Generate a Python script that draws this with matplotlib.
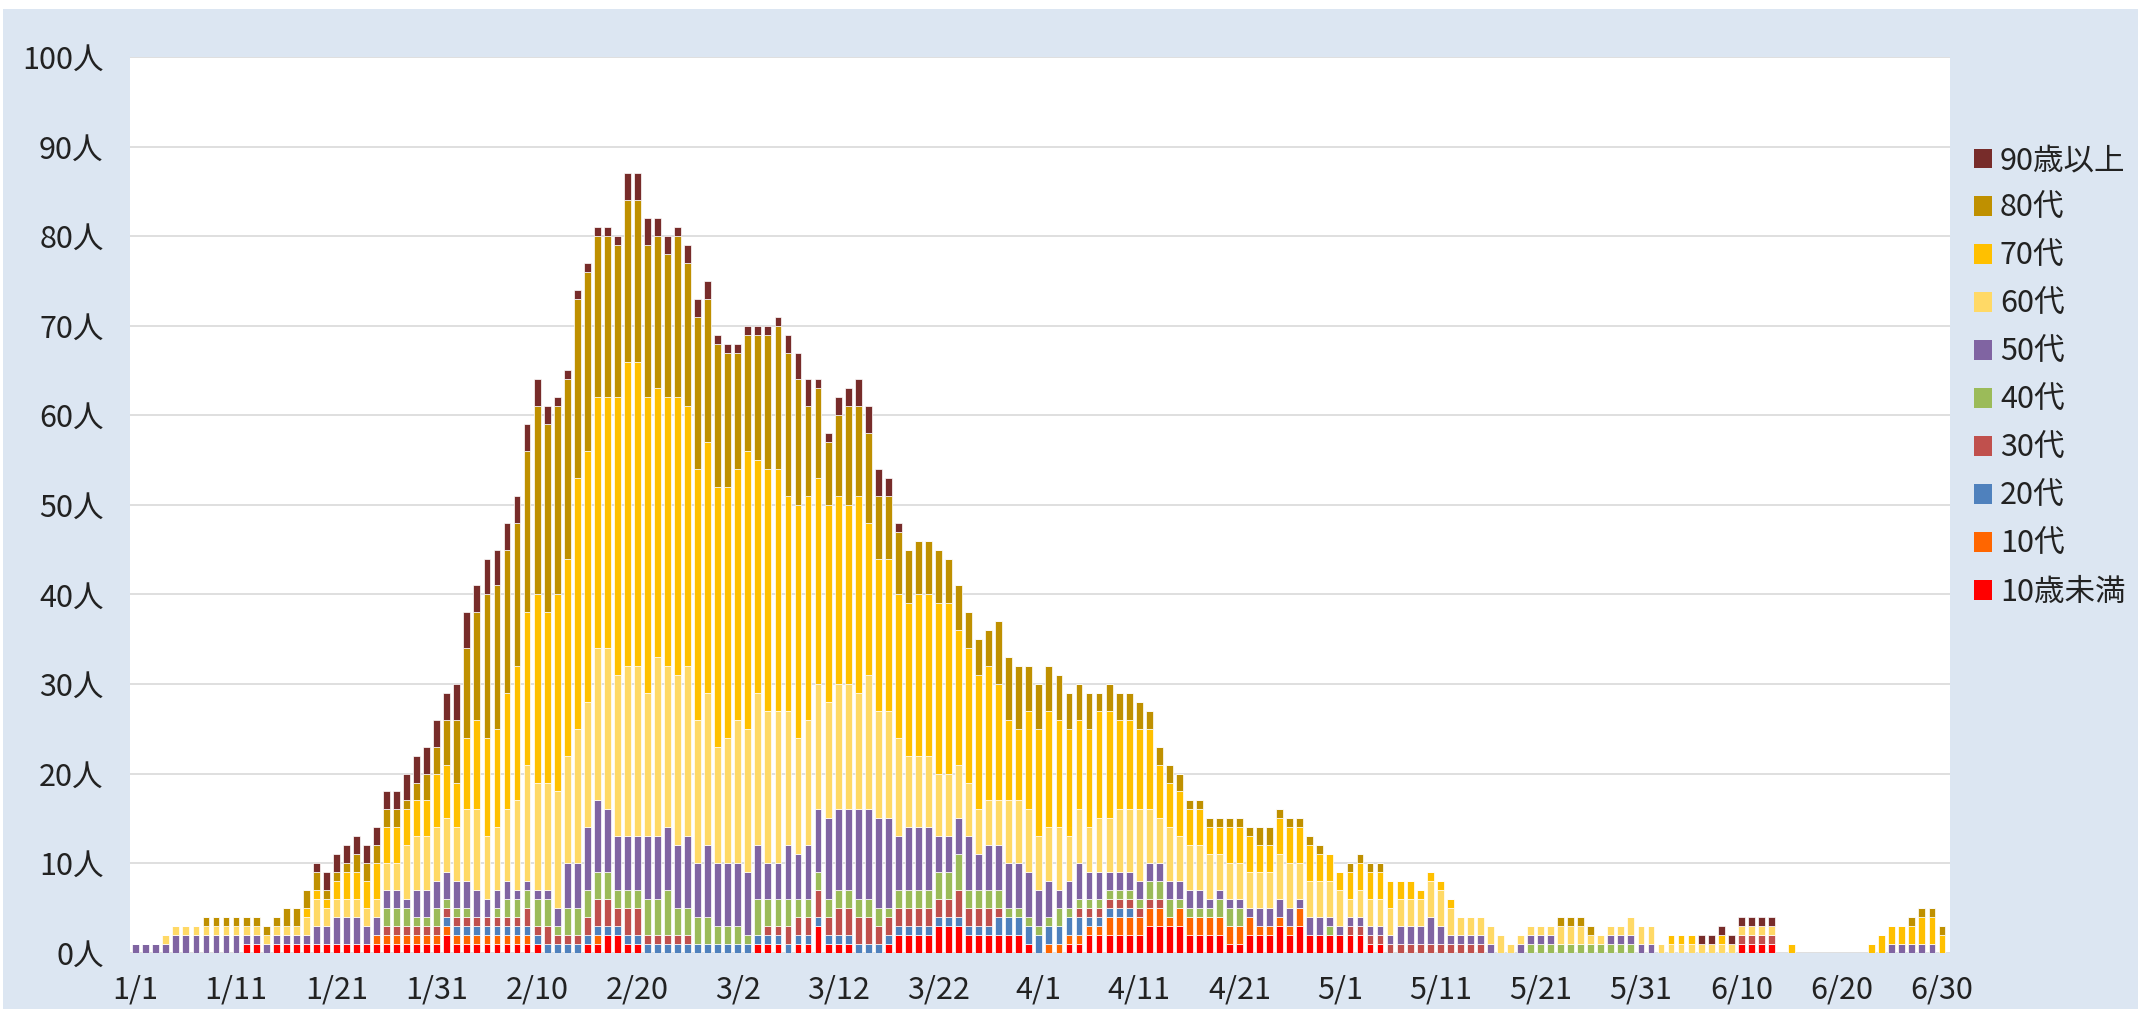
import matplotlib
matplotlib.use('Agg')
import matplotlib.pyplot as plt
import matplotlib.patches as patches
import numpy as np

plt.rcParams['font.family'] = ['Noto Sans CJK JP', 'DejaVu Sans']

# daily new cases by age group, 1/1 - 6/30 (181 days)
under10 = [
    0, 0, 0, 0, 0, 0, 0, 0, 0, 0,
    0, 1, 1, 0, 1, 1, 1, 1, 1, 1,
    1, 1, 1, 1, 1, 1, 1, 1, 1, 1,
    1, 2, 1, 1, 1, 1, 1, 1, 1, 1,
    1, 0, 0, 0, 0, 1, 1, 2, 2, 1,
    1, 0, 0, 0, 0, 0, 0, 0, 0, 0,
    0, 0, 1, 1, 1, 0, 1, 1, 3, 1,
    1, 1, 0, 0, 0, 1, 2, 2, 2, 2,
    3, 3, 3, 2, 2, 2, 2, 2, 2, 1,
    0, 0, 0, 1, 1, 2, 2, 2, 2, 2,
    2, 3, 3, 3, 3, 2, 2, 2, 2, 1,
    1, 2, 2, 2, 3, 2, 3, 2, 2, 2,
    2, 2, 2, 1, 1, 0, 0, 0, 0, 0,
    0, 0, 0, 0, 0, 0, 0, 0, 0, 0,
    0, 0, 0, 0, 0, 0, 0, 0, 0, 0,
    0, 0, 0, 0, 0, 0, 0, 0, 0, 0,
    1, 1, 1, 1, 0, 0, 0, 0, 0, 0,
    0, 0, 0, 0, 0, 0, 0, 0, 0, 0,
    0]
teens = [
    0, 0, 0, 0, 0, 0, 0, 0, 0, 0,
    0, 0, 0, 0, 0, 0, 0, 0, 0, 0,
    0, 0, 0, 0, 1, 1, 1, 1, 1, 1,
    1, 1, 1, 1, 1, 1, 1, 1, 1, 1,
    0, 0, 0, 0, 0, 0, 1, 0, 0, 0,
    0, 0, 0, 0, 0, 0, 0, 0, 0, 0,
    0, 0, 0, 0, 0, 0, 0, 0, 0, 0,
    0, 0, 0, 0, 0, 0, 0, 0, 0, 0,
    0, 0, 0, 0, 0, 0, 0, 0, 0, 0,
    0, 1, 1, 1, 1, 1, 1, 2, 2, 2,
    2, 2, 2, 1, 2, 2, 2, 2, 2, 2,
    2, 2, 1, 1, 1, 1, 2, 0, 0, 0,
    0, 0, 0, 0, 0, 0, 0, 0, 0, 0,
    0, 0, 0, 0, 0, 0, 0, 0, 0, 0,
    0, 0, 0, 0, 0, 0, 0, 0, 0, 0,
    0, 0, 0, 0, 0, 0, 0, 0, 0, 0,
    0, 0, 0, 0, 0, 0, 0, 0, 0, 0,
    0, 0, 0, 0, 0, 0, 0, 0, 0, 0,
    0]
twenties = [
    0, 0, 0, 0, 0, 0, 0, 0, 0, 0,
    0, 0, 0, 0, 0, 0, 0, 0, 0, 0,
    0, 0, 0, 0, 0, 0, 0, 0, 0, 0,
    0, 1, 1, 1, 1, 1, 1, 1, 1, 1,
    1, 1, 1, 1, 1, 1, 1, 1, 1, 1,
    1, 1, 1, 1, 1, 1, 1, 1, 1, 1,
    1, 1, 1, 1, 1, 1, 1, 1, 1, 1,
    1, 1, 1, 1, 1, 1, 1, 1, 1, 1,
    1, 1, 1, 1, 1, 1, 2, 2, 2, 2,
    2, 2, 2, 2, 2, 1, 1, 1, 1, 1,
    0, 0, 0, 0, 0, 0, 0, 0, 0, 0,
    0, 0, 0, 0, 0, 0, 0, 0, 0, 0,
    0, 0, 0, 0, 0, 0, 0, 0, 0, 0,
    0, 0, 0, 0, 0, 0, 0, 0, 0, 0,
    0, 0, 0, 0, 0, 0, 0, 0, 0, 0,
    0, 0, 0, 0, 0, 0, 0, 0, 0, 0,
    0, 0, 0, 0, 0, 0, 0, 0, 0, 0,
    0, 0, 0, 0, 0, 0, 0, 0, 0, 0,
    0]
thirties = [
    0, 0, 0, 0, 0, 0, 0, 0, 0, 0,
    0, 0, 0, 0, 0, 0, 0, 0, 0, 0,
    0, 0, 0, 0, 0, 1, 1, 1, 1, 1,
    1, 1, 1, 1, 1, 1, 1, 1, 1, 2,
    1, 2, 1, 1, 1, 2, 3, 3, 2, 3,
    3, 1, 1, 1, 1, 1, 0, 0, 0, 0,
    0, 0, 0, 1, 1, 2, 2, 2, 3, 2,
    3, 3, 3, 3, 2, 2, 2, 2, 2, 2,
    2, 2, 3, 2, 2, 2, 1, 0, 0, 0,
    0, 0, 0, 0, 1, 1, 1, 1, 1, 1,
    1, 1, 1, 0, 0, 0, 0, 0, 0, 0,
    0, 0, 0, 0, 0, 0, 0, 0, 0, 0,
    0, 1, 1, 1, 1, 1, 1, 1, 1, 1,
    1, 1, 1, 1, 1, 0, 0, 0, 0, 0,
    0, 0, 0, 0, 0, 0, 0, 0, 0, 0,
    0, 0, 0, 0, 0, 0, 0, 0, 0, 0,
    1, 1, 1, 1, 0, 0, 0, 0, 0, 0,
    0, 0, 0, 0, 0, 0, 0, 0, 0, 0,
    0]
forties = [
    0, 0, 0, 0, 0, 0, 0, 0, 0, 0,
    0, 0, 0, 0, 0, 0, 0, 0, 0, 0,
    0, 0, 0, 0, 0, 2, 2, 2, 1, 1,
    2, 1, 1, 1, 0, 0, 1, 2, 2, 2,
    3, 3, 1, 3, 3, 3, 3, 3, 2, 2,
    2, 4, 4, 5, 3, 3, 3, 3, 2, 2,
    2, 1, 4, 3, 3, 3, 2, 2, 2, 2,
    2, 2, 2, 2, 2, 1, 2, 2, 2, 2,
    3, 3, 4, 2, 2, 2, 2, 1, 1, 1,
    1, 1, 2, 1, 1, 1, 1, 1, 1, 1,
    1, 2, 2, 2, 1, 1, 1, 1, 2, 2,
    2, 0, 0, 0, 0, 0, 0, 0, 0, 1,
    0, 0, 0, 0, 0, 0, 0, 0, 0, 0,
    0, 0, 0, 0, 0, 0, 0, 0, 0, 1,
    1, 1, 1, 1, 1, 1, 1, 1, 1, 1,
    0, 0, 0, 0, 0, 0, 0, 0, 0, 0,
    0, 0, 0, 0, 0, 0, 0, 0, 0, 0,
    0, 0, 0, 0, 0, 0, 0, 0, 0, 0,
    0]
fifties = [
    1, 1, 1, 1, 2, 2, 2, 2, 2, 2,
    2, 1, 1, 1, 1, 1, 1, 1, 2, 2,
    3, 3, 3, 2, 2, 2, 2, 1, 3, 3,
    3, 3, 3, 3, 3, 2, 2, 2, 1, 1,
    1, 1, 2, 5, 5, 7, 8, 7, 6, 6,
    6, 7, 7, 7, 7, 8, 6, 8, 7, 7,
    7, 7, 6, 4, 4, 6, 5, 6, 7, 9,
    9, 9, 10, 10, 10, 10, 6, 7, 7, 7,
    4, 4, 4, 6, 4, 5, 5, 5, 5, 5,
    4, 4, 2, 3, 4, 3, 3, 2, 2, 2,
    2, 2, 2, 2, 2, 2, 2, 1, 1, 1,
    1, 1, 2, 2, 2, 2, 1, 2, 2, 1,
    1, 1, 1, 1, 1, 1, 2, 2, 2, 3,
    2, 1, 1, 1, 1, 1, 0, 0, 1, 1,
    1, 1, 0, 0, 0, 0, 0, 1, 1, 1,
    1, 1, 0, 0, 0, 0, 0, 0, 0, 0,
    0, 0, 0, 0, 0, 0, 0, 0, 0, 0,
    0, 0, 0, 0, 0, 1, 1, 1, 1, 1,
    0]
sixties = [
    0, 0, 0, 1, 1, 1, 1, 1, 1, 1,
    1, 1, 1, 1, 1, 1, 1, 2, 3, 2,
    2, 2, 2, 2, 2, 3, 3, 6, 6, 6,
    6, 6, 6, 8, 9, 7, 7, 8, 10, 13,
    12, 12, 13, 12, 15, 14, 17, 18, 18, 19,
    19, 16, 20, 18, 19, 19, 16, 17, 13, 14,
    16, 16, 17, 17, 17, 15, 13, 14, 14, 13,
    14, 14, 13, 15, 12, 12, 11, 8, 8, 8,
    7, 7, 6, 6, 5, 5, 5, 7, 7, 7,
    6, 6, 7, 5, 6, 5, 6, 6, 7, 7,
    8, 6, 5, 6, 5, 5, 5, 5, 4, 4,
    4, 4, 4, 4, 5, 5, 4, 4, 4, 4,
    4, 2, 3, 3, 3, 3, 3, 3, 3, 4,
    4, 3, 2, 2, 2, 2, 2, 1, 1, 1,
    1, 1, 2, 2, 2, 1, 1, 1, 1, 2,
    2, 2, 1, 1, 1, 1, 1, 1, 1, 1,
    1, 1, 1, 1, 0, 0, 0, 0, 0, 0,
    0, 0, 0, 0, 0, 0, 0, 0, 0, 0,
    0]
seventies = [
    0, 0, 0, 0, 0, 0, 0, 0, 0, 0,
    0, 0, 0, 0, 0, 0, 0, 1, 1, 1,
    2, 3, 3, 3, 4, 4, 4, 4, 4, 4,
    6, 6, 5, 8, 10, 11, 11, 13, 15, 17,
    21, 19, 22, 22, 28, 28, 28, 28, 31, 34,
    34, 33, 30, 30, 31, 29, 28, 28, 29, 28,
    28, 31, 26, 27, 27, 24, 26, 25, 23, 22,
    21, 20, 22, 17, 17, 17, 16, 17, 18, 18,
    19, 19, 15, 15, 15, 15, 13, 9, 8, 11,
    12, 13, 12, 12, 10, 11, 12, 12, 10, 10,
    9, 9, 6, 5, 5, 4, 4, 3, 3, 4,
    4, 4, 3, 3, 4, 4, 4, 4, 3, 3,
    2, 3, 3, 3, 3, 3, 2, 2, 1, 1,
    1, 1, 0, 0, 0, 0, 0, 0, 0, 0,
    0, 0, 0, 0, 0, 0, 0, 0, 0, 0,
    0, 0, 0, 1, 1, 1, 0, 0, 1, 0,
    0, 0, 0, 0, 0, 1, 0, 0, 0, 0,
    0, 0, 0, 1, 2, 2, 2, 2, 3, 3,
    2]
eighties = [
    0, 0, 0, 0, 0, 0, 0, 1, 1, 1,
    1, 1, 1, 1, 1, 2, 2, 2, 2, 1,
    1, 1, 2, 2, 2, 2, 2, 1, 2, 3,
    3, 5, 7, 10, 12, 16, 16, 16, 16, 18,
    21, 21, 21, 20, 20, 20, 18, 18, 17, 18,
    18, 17, 17, 16, 18, 16, 17, 16, 16, 15,
    13, 13, 14, 15, 16, 16, 14, 10, 10, 7,
    9, 11, 10, 10, 7, 7, 7, 6, 6, 6,
    6, 5, 5, 4, 4, 4, 7, 7, 7, 5,
    5, 5, 5, 4, 4, 4, 2, 3, 3, 3,
    3, 2, 2, 2, 2, 1, 1, 1, 1, 1,
    1, 1, 2, 2, 1, 1, 1, 1, 1, 0,
    0, 1, 1, 1, 1, 0, 0, 0, 0, 0,
    0, 0, 0, 0, 0, 0, 0, 0, 0, 0,
    0, 0, 1, 1, 1, 1, 0, 0, 0, 0,
    0, 0, 0, 0, 0, 0, 0, 0, 0, 0,
    0, 0, 0, 0, 0, 0, 0, 0, 0, 0,
    0, 0, 0, 0, 0, 0, 0, 1, 1, 1,
    1]
over90 = [
    0, 0, 0, 0, 0, 0, 0, 0, 0, 0,
    0, 0, 0, 0, 0, 0, 0, 0, 1, 2,
    2, 2, 2, 2, 2, 2, 2, 3, 3, 3,
    3, 3, 4, 4, 3, 4, 4, 3, 3, 3,
    3, 2, 1, 1, 1, 1, 1, 1, 1, 3,
    3, 3, 2, 2, 1, 2, 2, 2, 1, 1,
    1, 1, 1, 1, 1, 2, 3, 3, 1, 1,
    2, 2, 3, 3, 3, 2, 1, 0, 0, 0,
    0, 0, 0, 0, 0, 0, 0, 0, 0, 0,
    0, 0, 0, 0, 0, 0, 0, 0, 0, 0,
    0, 0, 0, 0, 0, 0, 0, 0, 0, 0,
    0, 0, 0, 0, 0, 0, 0, 0, 0, 0,
    0, 0, 0, 0, 0, 0, 0, 0, 0, 0,
    0, 0, 0, 0, 0, 0, 0, 0, 0, 0,
    0, 0, 0, 0, 0, 0, 0, 0, 0, 0,
    0, 0, 0, 0, 0, 0, 1, 1, 1, 1,
    1, 1, 1, 1, 0, 0, 0, 0, 0, 0,
    0, 0, 0, 0, 0, 0, 0, 0, 0, 0,
    0]

labels = ['10歳未満', '10代', '20代', '30代', '40代',
          '50代', '60代', '70代', '80代', '90歳以上']
colors = ['#FF0000', '#FF6600', '#4F81BD', '#C0504D', '#9BBB59',
          '#8064A2', '#FFD966', '#FFC000', '#BF9000', '#772C2A']
tick_labels = ['1/1', '1/11', '1/21', '1/31', '2/10', '2/20', '3/2', '3/12',
               '3/22', '4/1', '4/11', '4/21', '5/1', '5/11', '5/21', '5/31',
               '6/10', '6/20', '6/30']
series = [under10, teens, twenties, thirties, forties,
          fifties, sixties, seventies, eighties, over90]

W, H = 2138, 1009
fig = plt.figure(figsize=(W / 100, H / 100), dpi=100, facecolor='white')
# light blue chart area
fig.patches.append(patches.Rectangle((3 / W, 0), 1, 1 - 9 / H, transform=fig.transFigure,
                                     facecolor='#DCE6F2', edgecolor='none', zorder=-10))

ax = fig.add_axes([130 / W, 56.3 / H, (1950 - 130) / W, (952 - 56.3) / H])
ax.set_facecolor('white')

x = np.arange(len(under10))
bottom = np.zeros(len(x))
for vals, col in zip(series, colors):
    vals = np.array(vals)
    ax.bar(x, vals, 0.68, bottom=bottom, color=col, edgecolor='white', linewidth=0.5)
    bottom += vals

ax.set_xlim(-0.57, 180.8)
ax.set_ylim(0, 100)
ax.set_yticks(range(0, 101, 10))
ax.set_yticklabels([f'{v}人' for v in range(0, 101, 10)])
ax.set_xticks(range(0, 181, 10))
ax.set_xticklabels(tick_labels)
ax.tick_params(axis='both', length=0, labelsize=22, colors='#222222')
ax.tick_params(axis='y', pad=19)
ax.tick_params(axis='x', pad=16)
ax.yaxis.grid(True, color='#D9D9D9', linewidth=1.2)
ax.set_axisbelow(True)
for s in ax.spines.values():
    s.set_visible(False)

handles = [patches.Patch(facecolor=c, edgecolor='none') for c in colors][::-1]
fig.legend(handles, labels[::-1], loc='upper left',
           bbox_to_anchor=(1974 / W, 1 - 145 / H), frameon=False, fontsize=22,
           handlelength=0.6, handleheight=0.6, handletextpad=0.25,
           labelspacing=0.555, borderpad=0, borderaxespad=0, labelcolor='#222222')

fig.savefig('out.png', dpi=100)
